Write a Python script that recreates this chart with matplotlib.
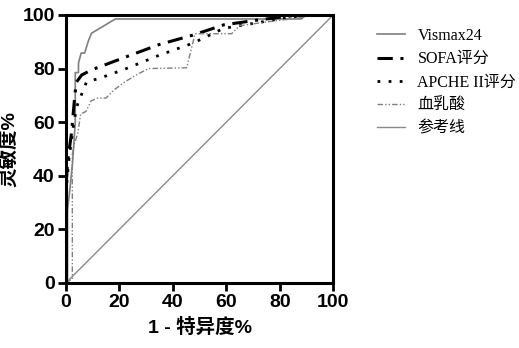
import matplotlib
matplotlib.use('Agg')
import matplotlib.pyplot as plt

# --- ROC data ---
vismax_x = [0, 0.6, 0.6, 1.5, 2.5, 3.5, 3.5, 4.7, 4.7, 5.7, 7.0, 8.5, 9.6, 18.5, 88, 90, 100]
vismax_y = [0, 0, 27.5, 35, 45, 60, 78.5, 78.5, 82, 85.8, 85.8, 90.6, 93.2, 98.5, 98.5, 100, 100]

sofa_x = [0, 0, 0.6, 2.1, 3.4, 4.0, 5.9, 9.6, 22.6, 35, 47.6, 59, 71, 84, 90, 100]
sofa_y = [0, 35, 45, 56, 70.8, 75, 77.6, 79.5, 84.4, 89, 92.5, 96.3, 98, 99.6, 100, 100]

apche_x = [0, 0, 1.0, 2.7, 4.0, 7.7, 12.7, 22.6, 35, 47.6, 59, 71, 83, 90, 100]
apche_y = [0, 33, 45, 58, 65.7, 75, 76.4, 80, 85, 89.5, 95, 97, 99, 100, 100]

lactate_x = [0, 2.4, 2.4, 3.2, 4.5, 5.5, 7.5, 9.5, 12, 15, 18, 22, 27, 31, 45.2, 48.3, 62, 65, 76, 88, 90, 100]
lactate_y = [0, 1.5, 48, 52, 56, 63, 64, 68, 69, 69, 72, 75, 78, 80, 80.3, 93, 93, 96, 97.5, 99, 100, 100]

ref_x = [0, 100]
ref_y = [0, 100]

labels = ['Vismax24', 'SOFA评分', 'APCHE II评分', '血乳酸', '参考线']
ticks = [0, 20, 40, 60, 80, 100]

plt.rcParams['font.family'] = ['Liberation Sans', 'Noto Sans CJK SC']

fig = plt.figure(figsize=(5.19, 3.48), dpi=100)
ax = fig.add_axes([0.127, 0.187, 0.515, 0.770])

l1, = ax.plot(vismax_x, vismax_y, color='#7f7f7f', lw=1.2, ls='-')
l2, = ax.plot(sofa_x, sofa_y, color='black', lw=2.2, ls=(0, (5, 2.5, 1, 2.5)))
l3, = ax.plot(apche_x, apche_y, color='black', lw=2.0, ls=(0, (1, 3)))
l4, = ax.plot(lactate_x, lactate_y, color='#7f7f7f', lw=1.0, ls=(0, (4, 1.5, 1, 1.5, 1, 1.5)))
l5, = ax.plot(ref_x, ref_y, color='#8a8a8a', lw=1.0, ls='-')

ax.set_xlim(0, 100)
ax.set_ylim(0, 100)
ax.set_xticks(ticks)
ax.set_yticks(ticks)
for s in ax.spines.values():
    s.set_linewidth(2.2)
ax.tick_params(direction='out', length=6, width=2, labelsize=14, pad=2)
for t in ax.get_xticklabels() + ax.get_yticklabels():
    t.set_fontweight('bold')

ax.set_xlabel('1 - 特异度%', fontsize=14, fontweight='bold', labelpad=5)
ax.set_ylabel('灵敏度%', fontsize=14, fontweight='bold', labelpad=2)

leg = fig.legend([l1, l2, l3, l4, l5], labels, loc='upper left',
                 bbox_to_anchor=(0.715, 0.938), frameon=False,
                 prop={'family': ['Liberation Serif', 'Noto Sans CJK SC'], 'size': 11.5},
                 handlelength=1.7, handletextpad=0.8, labelspacing=0.45,
                 borderaxespad=0)

fig.savefig('out.png', dpi=100)
